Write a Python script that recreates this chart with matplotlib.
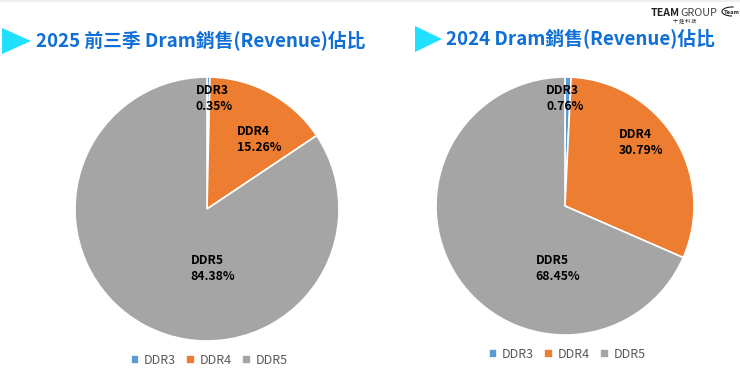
import matplotlib
matplotlib.use('Agg')
import matplotlib.pyplot as plt
from matplotlib.patches import Polygon, Arc

plt.rcParams['font.family'] = ['Noto Sans CJK TC', 'DejaVu Sans']

W, H = 740, 387

# data
categories = ['DDR3', 'DDR4', 'DDR5']
values_2025 = [0.35, 15.26, 84.38]
values_2024 = [0.76, 30.79, 68.45]
colors = ['#5B9BD5', '#ED7D31', '#A5A5A5']
title_2025 = '2025 前三季 Dram銷售(Revenue)佔比'
title_2024 = '2024 Dram銷售(Revenue)佔比'


def px_axes(fig, x0, y0, x1, y1):
    # pixel box, y measured from top of the image
    return fig.add_axes([x0 / W, 1 - y1 / H, (x1 - x0) / W, (y1 - y0) / H])


def draw_pie(fig, cx, cy, r, values, label_pos, legend_x, legend_y):
    ax = px_axes(fig, cx - r, cy - r, cx + r, cy + r)
    wedges, _ = ax.pie(values, colors=colors, startangle=90, counterclock=False,
                       radius=1, wedgeprops={'edgecolor': 'white', 'linewidth': 1.2})
    ax.set_xlim(-1, 1)
    ax.set_ylim(-1, 1)
    for cat, val, (lx, ly) in zip(categories, values, label_pos):
        fig.text(lx / W, 1 - ly / H, f'{cat}\n{val:.2f}%', ha='center', va='center',
                 multialignment='left', fontsize=8.8, fontweight='bold', color='black',
                 linespacing=1.3)
    fig.legend(wedges, categories, loc='center', bbox_to_anchor=(legend_x / W, 1 - legend_y / H),
               ncol=3, frameon=False, fontsize=9, labelcolor='#595959', handlelength=0.7,
               handleheight=0.7, handletextpad=0.35, columnspacing=0.85, borderpad=0)


fig = plt.figure(figsize=(W / 100, H / 100), dpi=100, facecolor='white')

draw_pie(fig, 207, 209, 132, values_2025, [(214, 99), (259, 139), (213, 268)], 209, 360)
draw_pie(fig, 565, 206, 129, values_2024, [(565, 99), (641, 143), (558, 268)], 567, 354)

# titles with the arrow markers
bg = fig.add_axes([0, 0, 1, 1], zorder=-1)
bg.set_xlim(0, W)
bg.set_ylim(H, 0)
bg.axis('off')
bg.fill_between([0, W], 0, 1.5, color='#EFEFEF', lw=0)
bg.add_patch(Polygon([(2, 28), (31, 41), (2, 54)], color='#1FE0FF', lw=0))
bg.add_patch(Polygon([(415, 26), (442, 39), (415, 52)], color='#1FE0FF', lw=0))
bg.text(36, 40, title_2025, fontsize=13.5, color='#0F6FD6', fontweight='bold', va='center', ha='left')
bg.text(446, 38, title_2024, fontsize=13.5, color='#0F6FD6', fontweight='bold', va='center', ha='left')

# logo
bg.text(651, 12.5, 'TEAM', fontsize=7.6, color='#222222', va='center', ha='left', fontweight='bold')
bg.text(680, 12.5, 'GROUP', fontsize=7.8, color='#444444', va='center', ha='left')
bg.text(685, 20.5, '十 銓 科 技', fontsize=3.6, color='#222222', va='center', ha='center')
bg.text(724, 12, 'Team', fontsize=4.2, color='#222222', va='center', ha='left', fontweight='bold', style='italic')
bg.add_patch(Arc((732, 11.5), 20, 9, theta1=90, theta2=290, color='#222222', lw=0.8))

fig.savefig('out.png', dpi=100)
